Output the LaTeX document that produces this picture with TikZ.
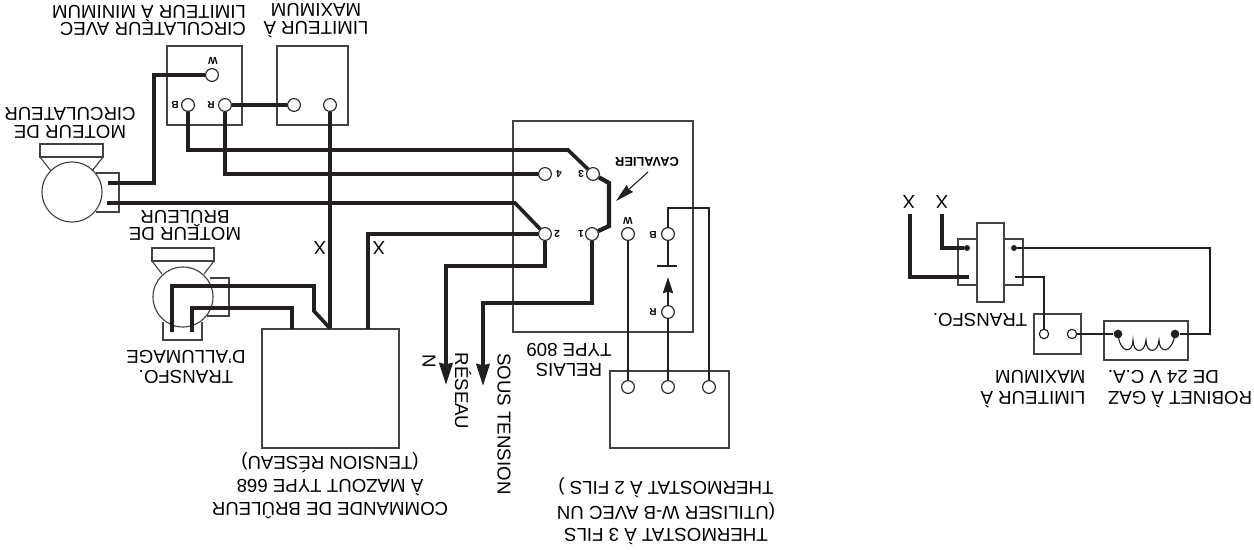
\documentclass[tikz,border=0pt]{standalone}
\usepackage{fontspec}
\setmainfont{Liberation Sans}
\usetikzlibrary{arrows.meta}
\definecolor{encre}{HTML}{231F20}
\tikzset{
	box/.style={draw=encre!85,line width=0.85pt},
	wire/.style={draw=encre,line width=2.7pt,line join=miter},
	fil/.style={draw=encre,line width=2.1pt,line join=miter},
	term/.style={circle,draw=encre,fill=white,line width=0.85pt,inner sep=0pt,minimum size=9.6pt},
	smallterm/.style={term,minimum size=7pt},
	dot/.style={circle,fill=encre,inner sep=0pt,minimum size=6.5pt},
	lab/.style={rotate=180,align=center,font=\fontsize{14}{13}\selectfont,inner sep=0pt},
	mini/.style={rotate=180,font=\fontsize{7.5}{8}\selectfont\bfseries,inner sep=0pt},
	bigtip/.style={-{Stealth[length=16.5pt,width=10pt,inset=1pt]}},
}
\begin{document}
\begin{tikzpicture}[x=0.75pt,y=-0.75pt,line cap=butt]
	\useasboundingbox (0,0) rectangle (1254,550);
	% boites
	\draw[box] (167,46) rectangle (242,125);
	\draw[box] (277,46) rectangle (348,125);
	\draw[box] (513,121) rectangle (693,332);
	\draw[box] (610,371) rectangle (729,448);
	\node[box,inner sep=0pt,minimum width=102.75pt,minimum height=89.25pt] (burner) at (330.5,388.5) {};
	% moteur de circulateur
	\draw[box] (40,144) rectangle (103,157);
	\draw[box] (40,157)--(51,171) (103,157)--(92,171);
	\draw[box] (96,173)--(119,173)--(119,212)--(96,212);
	\draw[box] (72,192) circle (30);
	% moteur de bruleur
	\draw[box] (152,248) rectangle (214,261);
	\draw[box] (152,261)--(162,274) (214,261)--(204,274);
	\draw[box] (210,278)--(229,278)--(229,316)--(207,316);
	\draw[box] (163,322)--(163,340)--(202,340)--(202,322);
	\draw[box] (183,297) circle (30);
	% bornes
	\node[term] (cw) at (212,75) {};
	\node[term] (cb) at (188,105) {};
	\node[term] (cr) at (225,105) {};
	\node[term] (la) at (294,105) {};
	\node[term] (lb) at (330,105) {};
	\node[term] (r3) at (593,174) {};
	\node[term] (r4) at (545,174) {};
	\node[term] (r2) at (545,234) {};
	\node[term] (r1) at (592,234) {};
	\node[term] (rw) at (628,234) {};
	\node[term] (rb) at (668,234) {};
	\node[term] (rr) at (668,312) {};
	\node[term] (tw) at (628,387) {};
	\node[term] (tr) at (668,387) {};
	\node[term] (tb) at (709,387) {};
	\coordinate (m1a) at (108,183);
	\coordinate (m1b) at (107,203);
	\coordinate (m2a) at (172,332);
	\coordinate (m2b) at (192,332);
	% fils
	\draw[wire] (cw) -- (154,75) -- (154,183) -- (m1a);
	\draw[wire] (cr) -- (la);
	\draw[wire] (cb) -- (188,150) -- (568,150) -- (r3);
	\draw[wire] (cr) -- (225,174) -- (r4);
	\draw[wire] (lb) -- (lb |- burner.north);
	\draw[wire] (m1b) -- (515,203) -- (r2);
	\draw[wire] (368,329) -- (368,234) -- (r2);
	\draw[wire] (m2a) -- (172,286) -- (314,286) -- (314,311) -- (lb |- burner.north);
	\draw[wire] (m2b) -- (192,308) -- (292,308) -- (292,329);
	\draw[wire,bigtip] (r2) -- (545,266) -- (446,266) -- (446,385);
	\draw[wire,bigtip] (r1) -- (592,303) -- (483,303) -- (483,386);
	\draw[wire,line width=3.2pt] (r3) -- (609,183) -- (609,226) -- (r1);
	\draw[fil] (tw) -- (rw);
	\draw[fil] (tr) -- (rr);
	\draw[fil,-{Stealth[length=12pt,width=7.5pt,inset=1pt]}] (rr) -- (668,277);
	\draw[fil] (rb) -- (668,266);
	\draw[fil] (657,266) -- (677,266);
	\draw[fil] (rb) -- (668,208) -- (709,208) -- (tb);
	\draw[encre,line width=0.8pt,-{Stealth[length=14pt,width=7pt,inset=1pt]}] (648,172) -- (616,201);
	% transfo et robinet
	\draw[box] (958,239) rectangle (977,285);
	\draw[box] (1004,239) rectangle (1023,285);
	\draw[box] (977,223) rectangle (1004,302);
	\draw[box] (1034,314) rectangle (1081,354);
	\draw[box] (1104,321) rectangle (1188,360);
	\node[dot,minimum size=4.5pt] (d1) at (967,248) {};
	\node[dot,minimum size=4.5pt] (d2) at (1014,248) {};
	\node[dot] (d3) at (1118,334) {};
	\node[dot] (d4) at (1175,334) {};
	\node[smallterm] (ma) at (1044,334) {};
	\node[smallterm] (mb) at (1072,334) {};
	\coordinate (x1) at (942,214);
	\coordinate (x2) at (910,214);
	\coordinate (p1) at (969,277);
	\coordinate (s1) at (1015,277);
	\draw[wire] (x1) -- (942,248) -- (d1);
	\draw[wire] (x2) -- (910,277) -- (p1);
	\draw[fil] (d2) -- (1210,248) -- (1210,334) -- (d4);
	\draw[fil] (s1) -- (1044,277) -- (ma);
	\draw[fil] (mb) -- (d3);
	\draw[encre,line width=0.85pt] (d3.center) .. controls (1120,354) and (1133,354) .. (1133,340)
		.. controls (1133,354) and (1145,354) .. (1146,340)
		.. controls (1146,354) and (1158,354) .. (1159,340)
		.. controls (1159,354) and (1172,354) .. (d4.center);
	% textes
	\node[lab,align=left] (t1) at (149,20.5) {CIRCULATEUR AVEC\\LIMITEUR À MINIMUM};
	\node[lab] (t2) at (316,20.5) {LIMITEUR À\\MAXIMUM};
	\node[lab] (t3) at (70,123) {MOTEUR DE\\CIRCULATEUR};
	\node[lab] (t4) at (185,225.5) {MOTEUR DE\\BRÛLEUR};
	\node[lab] (t5) at (186,367) {TRANSFO.\\[2.3pt]D’ALLUMAGE};
	\node[lab] (t6) at (330,486) {COMMANDE DE BRÛLEUR\\[4.3pt]À MAZOUT TYPE 668\\[4.3pt](TENSION RÉSEAU)};
	\node[lab] (t7) at (569,360) {RELAIS\\[1.5pt]TYPE 809};
	\node[lab] (t8) at (666,511) {THERMOSTAT À 3 FILS\\[3pt](UTILISER W-B AVEC UN\\[3pt]THERMOSTAT À 2 FILS )};
	\node[lab,rotate=90] (t9) at (504,424) {SOUS TENSION};
	\node[lab,rotate=90] (t10) at (463,391) {RÉSEAU};
	\node[lab,rotate=90] (t11) at (429,361) {N};
	\node[lab] (t12) at (320,248) {X};
	\node[lab] (t13) at (379,248) {X};
	\node[lab] (t14) at (909,202) {X};
	\node[lab] (t15) at (942,202) {X};
	\node[lab] (t16) at (980,320) {TRANSFO.};
	\node[lab,align=left] (t17) at (1033,389) {LIMITEUR À\\[2.8pt]MAXIMUM};
	\node[lab,align=right] (t18) at (1180,389) {ROBINET À GAZ\\[2.8pt]DE 24 V C.A.};
	\node[mini] (n1) at (213,61) {W};
	\node[mini] (n2) at (175,105) {B};
	\node[mini] (n3) at (211,105) {R};
	\node[mini] (n4) at (581,174) {3};
	\node[mini] (n5) at (559,174) {4};
	\node[mini] (n6) at (557,234) {2};
	\node[mini] (n7) at (581,234) {1};
	\node[mini] (n8) at (628,221) {W};
	\node[mini] (n9) at (653,235) {B};
	\node[mini] (n10) at (653,312) {R};
	\node[mini,font=\fontsize{9.6}{10}\selectfont\bfseries] (n11) at (647,162) {CAVALIER};
\end{tikzpicture}
\end{document}
